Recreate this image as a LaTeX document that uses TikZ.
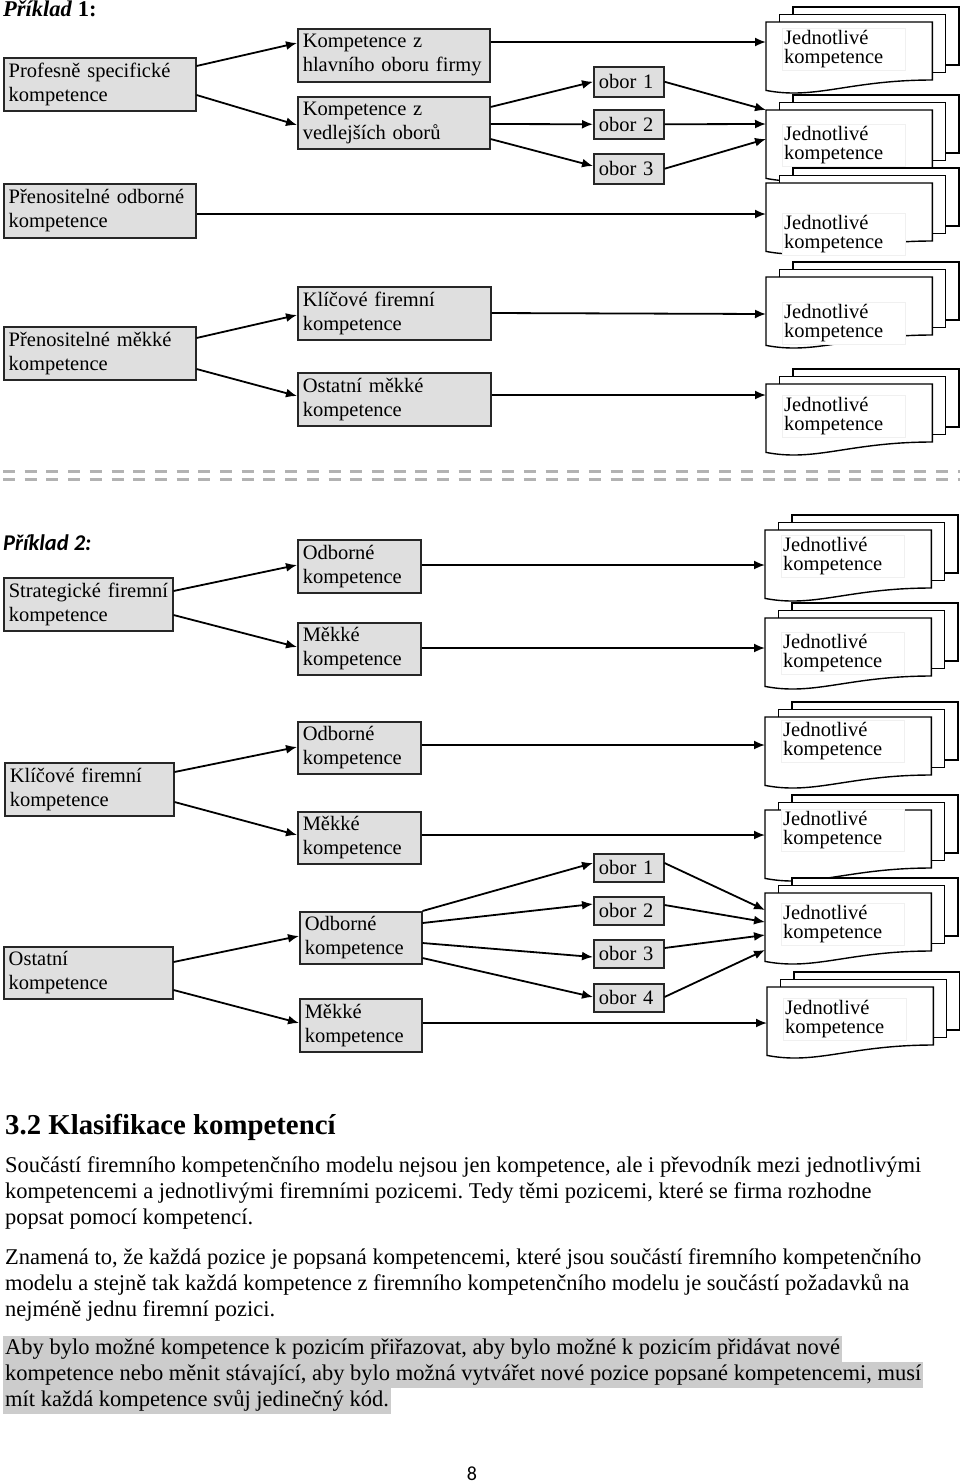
\documentclass[tikz,border=0pt]{standalone}
\usepackage{fontspec}
\setmainfont{Liberation Serif}
\newfontfamily\calibri{Carlito}
\usetikzlibrary{arrows.meta,calc}
\frenchspacing
\newcommand\fs{\fontsize{20.5}{24}\selectfont}
\newcommand\fsdoc{\fontsize{20.5}{19.5}\selectfont}
\newcommand\bodyfs{\fontsize{22.5}{26}\selectfont}
% #1 name, #2 x,y of front top-left, #3 y offset of text box
\newcommand\DocStack[3]{%
  \filldraw[docline] ($(#2)+(27,-15)$) rectangle ++(166,58);
  \filldraw[docline] ($(#2)+(13.5,-7.5)$) rectangle ++(166,58);
  \node[docnode] (#1) at (#2) {};
  \filldraw[docline] (#1.north west) -- (#1.north east) -- ($(#1.north east)+(0,58)$)
     .. controls ($(#1.north west)+(83,58)$) and ($(#1.north west)+(50,78)$) .. (#1.south west) -- cycle;
  \node[jk] (#1t) at ($(#1.north west)+(16,#3)$) {Jednotlivé\\kompetence};
}
\begin{document}
\begin{tikzpicture}[x=1pt,y=-1pt,
  box/.style={draw=black!85, line width=1.5pt, fill=gray!25, anchor=north west,
     inner xsep=5pt, inner ysep=0pt, align=left, font=\fs},
  docline/.style={draw=black, fill=white, line width=1.4pt},
  docnode/.style={anchor=north west, minimum width=166pt, minimum height=68pt, inner sep=0pt},
  jk/.style={draw=gray!12, fill=white, anchor=north west, minimum width=123pt,
     minimum height=42pt, text width=119pt, inner xsep=2pt, inner ysep=0pt, align=left, font=\fsdoc},
  conn/.style={line width=1.8pt, -{Latex[length=11pt,width=9pt]}},
  sep/.style={draw=gray!60, line width=3pt, dash pattern=on 12pt off 9.7pt},
  body/.style={anchor=base west, inner sep=0pt, font=\bodyfs},
  hl/.style={anchor=base west, inner xsep=2pt, inner ysep=0.5pt, fill=gray!40,
     text height=18pt, text depth=7pt, font=\bodyfs}
]
\fill[white] (0,0) rectangle (960,1484);
\useasboundingbox (0,0) rectangle (960,1484);

% ---------------- Example 1 ----------------
\node[anchor=base west, inner sep=0pt] (t1) at (3,16)
  {\fontsize{22.5}{24}\selectfont\bfseries\itshape Příklad\/ \upshape 1:};

\node[box, minimum height=53pt, text width=182pt] (pA) at (3,57) {Profesně specifické\\kompetence};
\node[box, minimum height=54pt, text width=182pt] (pB) at (3,183) {Přenositelné odborné\\kompetence};
\node[box, minimum height=53pt, text width=182pt] (kH) at (297,28) {Kompetence z\\hlavního oboru firmy};
\node[box, minimum height=52pt, text width=182pt] (kV) at (297,96) {Kompetence z\\vedlejších oborů};
\node[box, minimum height=30pt, text width=60pt] (o1) at (593,66) {obor 1};
\node[box, minimum height=29pt, text width=60pt] (o2) at (593,109) {obor 2};
\node[box, minimum height=30pt, text width=60pt] (o3) at (593,153) {obor 3};
\node[box, minimum height=53pt, text width=182pt] (pM) at (3,326) {Přenositelné měkké\\kompetence};
\node[box, minimum height=53pt, text width=183pt] (kK) at (297,286) {Klíčové firemní\\kompetence};
\node[box, minimum height=53pt, text width=183pt] (kO) at (297,372) {Ostatní měkké\\kompetence};

\DocStack{d1}{766,22}{6}
\DocStack{d2}{766,110}{14}
\DocStack{d3}{766,183}{30}
\DocStack{d4}{766,277}{25}
\DocStack{d5}{766,384}{11}

\draw[conn] ($(pA.north east)+(0,9)$) -- ($(kH.north west)+(0,15)$);
\draw[conn] ($(pA.north east)+(0,38)$) -- ($(kV.north west)+(0,29)$);
\draw[conn] ($(pB.north east)+(0,31)$) -- ($(d3.north west)+(0,31)$);
\draw[conn] ($(kH.north east)+(0,14)$) -- ($(d1.north west)+(0,20)$);
\draw[conn] ($(kV.north east)+(0,11)$) -- (o1.west);
\draw[conn] ($(kV.north east)+(0,28)$) -- (o2.west);
\draw[conn] ($(kV.north east)+(0,43)$) -- ($(o3.north west)+(0,13)$);
\draw[conn] (o1.east) -- (d2.north west);
\draw[conn] (o2.east) -- ($(d2.north west)+(0,14)$);
\draw[conn] (o3.east) -- ($(d2.north west)+(0,29)$);
\draw[conn] ($(pM.north east)+(0,12)$) -- ($(kK.north west)+(0,29)$);
\draw[conn] ($(pM.north east)+(0,43)$) -- ($(kO.north west)+(0,24)$);
\draw[conn] ($(kK.north east)+(0,27)$) -- ($(d4.north west)+(0,37)$);
\draw[conn] ($(kO.north east)+(0,23)$) -- ($(d5.north west)+(0,11)$);

% ---------------- separator ----------------
\draw[sep] (3,471) -- (960,471);
\draw[sep] (3,479) -- (960,479);

% ---------------- Example 2 ----------------
\node[anchor=base west, inner sep=0pt] (t2) at (3,550)
  {\calibri\fontsize{22.5}{24}\selectfont\bfseries\itshape Příklad 2:};

\node[box, minimum height=53pt, text width=165pt, inner xsep=2pt] (sS) at (3,577) {\hspace*{3pt}Strategické firemní\\\hspace*{3pt}kompetence};
\node[box, minimum height=53pt, text width=113pt] (sO1) at (297,539) {Odborné\\kompetence};
\node[box, minimum height=52pt, text width=113pt] (sM1) at (297,622) {Měkké\\kompetence};
\node[box, minimum height=53pt, text width=159pt] (sK) at (4,762) {Klíčové firemní\\kompetence};
\node[box, minimum height=52pt, text width=113pt] (sO2) at (297,721) {Odborné\\kompetence};
\node[box, minimum height=52pt, text width=113pt] (sM2) at (297,811) {Měkké\\kompetence};
\node[box, minimum height=52pt, text width=159pt] (sOs) at (3,946) {Ostatní\\kompetence};
\node[box, minimum height=52pt, text width=112pt] (sO3) at (299,911) {Odborné\\kompetence};
\node[box, minimum height=53pt, text width=112pt] (sM3) at (299,998) {Měkké\\kompetence};
\node[box, minimum height=28pt, text width=60pt] (b1) at (593,853) {obor 1};
\node[box, minimum height=28pt, text width=60pt] (b2) at (593,896) {obor 2};
\node[box, minimum height=28pt, text width=60pt] (b3) at (593,939) {obor 3};
\node[box, minimum height=28pt, text width=60pt] (b4) at (593,983) {obor 4};

\DocStack{eA}{765,530}{5}
\DocStack{eB}{765,618}{14}
\DocStack{eC}{765,717}{3}
\DocStack{eD}{765,810}{-1}
\DocStack{eE}{765,893}{10}
\DocStack{eF}{767,987}{11}

\draw[conn] ($(sS.north east)+(0,14)$) -- ($(sO1.north west)+(0,26)$);
\draw[conn] ($(sS.north east)+(0,38)$) -- ($(sM1.north west)+(0,25)$);
\draw[conn] ($(sO1.north east)+(0,26)$) -- ($(eA.north west)+(0,35)$);
\draw[conn] ($(sM1.north east)+(0,26)$) -- ($(eB.north west)+(0,30)$);
\draw[conn] ($(sK.north east)+(0,10)$) -- ($(sO2.north west)+(0,26)$);
\draw[conn] ($(sK.north east)+(0,40)$) -- ($(sM2.north west)+(0,24)$);
\draw[conn] ($(sO2.north east)+(0,24)$) -- ($(eC.north west)+(0,28)$);
\draw[conn] ($(sM2.north east)+(0,24)$) -- ($(eD.north west)+(0,25)$);
\draw[conn] ($(sOs.north east)+(0,16)$) -- ($(sO3.north west)+(0,25)$);
\draw[conn] ($(sOs.north east)+(0,44)$) -- ($(sM3.north west)+(0,25)$);
\draw[conn] (sO3.north east) -- ($(b1.north west)+(0,10)$);
\draw[conn] ($(sO3.north east)+(0,12)$) -- ($(b2.north west)+(0,8)$);
\draw[conn] ($(sO3.north east)+(0,32)$) -- ($(b3.north west)+(0,18)$);
\draw[conn] ($(sO3.north east)+(0,47)$) -- ($(b4.north west)+(0,14)$);
\draw[conn] ($(sM3.north east)+(0,25)$) -- ($(eF.north west)+(0,36)$);
\draw[conn] ($(b1.north east)+(0,10)$) -- ($(eE.north west)+(0,17)$);
\draw[conn] ($(b2.north east)+(0,9)$) -- ($(eE.north west)+(0,29)$);
\draw[conn] ($(b3.north east)+(0,9)$) -- ($(eE.north west)+(0,42)$);
\draw[conn] ($(b4.north east)+(0,14)$) -- ($(eE.north west)+(0,57)$);

% ---------------- text below ----------------
\node[anchor=base west, inner sep=0pt] (h) at (5,1134)
  {\fontsize{28.8}{30}\selectfont\bfseries 3.2 Klasifikace kompetencí};

\node[body] (l1) at (5,1172) {Součástí firemního kompetenčního modelu nejsou jen kompetence, ale i převodník mezi jednotlivými};
\node[body] (l2) at (5,1198) {kompetencemi a jednotlivými firemními pozicemi. Tedy těmi pozicemi, které se firma rozhodne};
\node[body] (l3) at (5,1224) {popsat pomocí kompetencí.};
\node[body] (l4) at (5,1264) {Znamená to, že každá pozice je popsaná kompetencemi, které jsou součástí firemního kompetenčního};
\node[body] (l5) at (5,1290) {modelu a stejně tak každá kompetence z firemního kompetenčního modelu je součástí požadavků na};
\node[body] (l6) at (5,1316) {nejméně jednu firemní pozici.};
\node[hl] (l7) at (3,1354) {Aby bylo možné kompetence k pozicím přiřazovat, aby bylo možné k pozicím přidávat nové};
\node[hl] (l8) at (3,1380) {kompetence nebo měnit stávající, aby bylo možná vytvářet nové pozice popsané kompetencemi, musí};
\node[hl] (l9) at (3,1406) {mít každá kompetence svůj jedinečný kód.};

\node[anchor=base, inner sep=0pt] (pg) at (472,1480) {\calibri\fontsize{20}{22}\selectfont 8};
\end{tikzpicture}
\end{document}
